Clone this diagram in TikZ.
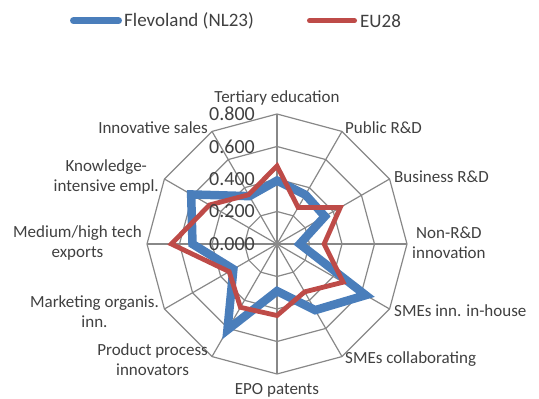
\documentclass[tikz,border=0pt]{standalone}
\usepackage{fontspec}
\setmainfont{Carlito}
\usetikzlibrary{calc}
\definecolor{gridgray}{HTML}{888888}
\definecolor{flevo}{HTML}{4A7EBB}
\definecolor{eucol}{HTML}{BE4B48}
\definecolor{txt}{HTML}{404040}
\tikzset{
  gridline/.style={draw=gridgray, line width=1.2pt},
  flevoline/.style={draw=flevo, line width=8.5pt, line join=miter},
  euline/.style={draw=eucol, line width=4.8pt, line join=miter},
  catlabel/.style={text=txt, inner sep=0pt, font=\fontsize{17}{20}\selectfont, align=center},
  vallabel/.style={text=txt, inner sep=0pt, anchor=east, font=\fontsize{20}{24}\selectfont},
  leglabel/.style={text=txt, inner sep=0pt, anchor=west, font=\fontsize{19}{23}\selectfont},
}
\begin{document}
\begin{tikzpicture}[x=1pt,y=1pt]
\useasboundingbox (0,0) rectangle (539,399);
\coordinate (C) at (277,155);
% grid rings
\foreach \r in {32.5,65,97.5,130}{
  \draw[gridline] ($(C)+(90:\r)$) \foreach \k in {1,...,11}{ -- ($(C)+(90-30*\k:\r)$) } -- cycle;
}
% spokes
\foreach \k in {0,...,11}{
  \coordinate (v\k) at ($(C)+(90-30*\k:130)$);
  \draw[gridline] (C) -- (v\k);
}
% data
\def\blue{0.39,0.35,0.34,0.14,0.63,0.47,0.29,0.61,0.31,0.52,0.61,0.34}
\def\red{0.48,0.26,0.45,0.29,0.47,0.34,0.44,0.45,0.34,0.65,0.48,0.35}
\foreach [count=\i from 0] \v in \blue { \coordinate (b\i) at ($(C)+(90-30*\i:162.5*\v)$); }
\foreach [count=\i from 0] \v in \red { \coordinate (r\i) at ($(C)+(90-30*\i:162.5*\v)$); }
\draw[flevoline] (b0) -- (b1) -- (b2) -- (b3) -- (b4) -- (b5) -- (b6) -- (b7) -- (b8) -- (b9) -- (b10) -- (b11) -- cycle;
\draw[euline] (r0) -- (r1) -- (r2) -- (r3) -- (r4) -- (r5) -- (r6) -- (r7) -- (r8) -- (r9) -- (r10) -- (r11) -- cycle;
% value labels
\node[vallabel] (l0) at (255,155) {0.000};
\node[vallabel] (l1) at (255,187.5) {0.200};
\node[vallabel] (l2) at (255,220) {0.400};
\node[vallabel] (l3) at (255,252.5) {0.600};
\node[vallabel] (l4) at (255,285) {0.800};
% category labels
\node[catlabel] (c0) at (277,301) {Tertiary education};
\node[catlabel, anchor=west] (c1) at (345,271) {Public R\&D};
\node[catlabel, anchor=west] (c2) at (394,222) {Business R\&D};
\node[catlabel, anchor=west] (c3) at (412,156) {Non-R\&D\\innovation};
\node[catlabel, anchor=west] (c4) at (394,88) {SMEs inn. in-house};
\node[catlabel, anchor=west] (c5) at (345,40) {SMEs collaborating};
\node[catlabel] (c6) at (277,9) {EPO patents};
\node[catlabel, anchor=east] (c7) at (208,39) {Product process\\innovators};
\node[catlabel, anchor=east] (c8) at (159,87) {Marketing organis.\\inn.};
\node[catlabel, anchor=east] (c9) at (142,156) {Medium/high tech\\exports};
\node[catlabel, anchor=east] (c10) at (159,222) {Knowledge-\\intensive empl.};
\node[catlabel, anchor=east] (c11) at (208,271) {Innovative sales};
% legend
\coordinate (lb1) at (73.5,378.3);
\coordinate (lb2) at (118.5,378.3);
\coordinate (lr1) at (309.5,378.3);
\coordinate (lr2) at (354.5,378.3);
\draw[draw=flevo, line width=7pt, line cap=round] (lb1) -- (lb2);
\draw[draw=eucol, line width=5pt, line cap=round] (lr1) -- (lr2);
\node[leglabel] (t1) at (124,378.3) {Flevoland (NL23)};
\node[leglabel] (t2) at (360,378.3) {EU28};
\end{tikzpicture}
\end{document}
